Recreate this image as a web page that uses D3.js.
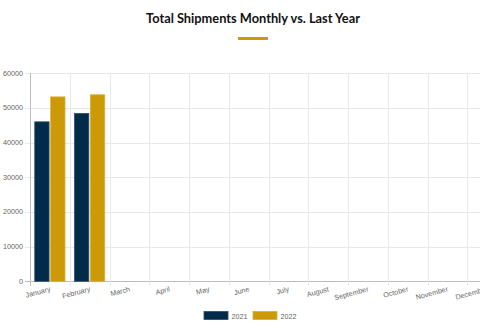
<!DOCTYPE html>
<html><head><meta charset="utf-8">
<script src="https://cdn.jsdelivr.net/npm/d3@7"></script>
<style>html,body{margin:0;padding:0;background:#fff;overflow:hidden}</style>
</head><body>
<svg id="c" width="480" height="335"></svg>
<script>
const months = ["January","February","March","April","May","June","July","August","September","October","November","December"];
const seriesNames = ["2021","2022"];
const values2021 = [46000, 48400, null, null, null, null, null, null, null, null, null, null];
const values2022 = [53200, 53800, null, null, null, null, null, null, null, null, null, null];
const yTicks = [0, 10000, 20000, 30000, 40000, 50000, 60000];
const colors = ["#022b4a", "#cc9a06"];
const borders = ["#2a4d68", "#d9ae3a"];

const svg = d3.select("#c");
const font = "'Liberation Sans', Arial, sans-serif";

// title
const title = svg.append("text").attr("x", 253).attr("y", 23).attr("text-anchor", "middle")
  .style("font-family", "Lato, 'Open Sans', sans-serif").style("font-weight", "700")
  .style("font-size", "14px").attr("fill", "#111").text("Total Shipments Monthly vs. Last Year");
const tl = title.node().getComputedTextLength();
title.style("font-size", (14 * 214 / tl).toFixed(2) + "px");
svg.append("rect").attr("x", 238).attr("y", 37).attr("width", 30).attr("height", 3).attr("fill", "#cc9a06");

const x = d3.scaleBand().domain(months).range([30, 507]).paddingInner(0).paddingOuter(0);
const y = d3.scaleLinear().domain([0, 60000]).range([281.3, 73.3]);
const inner = d3.scaleBand().domain(seriesNames).range([0, x.bandwidth() * 0.8]).paddingInner(0.1).paddingOuter(0.05);

const grid = svg.append("g");
grid.selectAll("line.h").data(yTicks).join("line")
  .attr("x1", 25).attr("x2", 507)
  .attr("y1", d => Math.round(y(d)) + 0.5).attr("y2", d => Math.round(y(d)) + 0.5)
  .attr("stroke", d => d === 0 ? "#bdbdbd" : "#e8e8e8").attr("stroke-width", 1);
const bounds = months.map(m => x(m));
grid.selectAll("line.v").data(bounds).join("line")
  .attr("x1", d => Math.round(d) + 0.5).attr("x2", d => Math.round(d) + 0.5)
  .attr("y1", 73).attr("y2", 286)
  .attr("stroke", (d, i) => i === 0 ? "#bdbdbd" : "#e8e8e8").attr("stroke-width", 1);

svg.append("g").selectAll("text").data(yTicks).join("text")
  .attr("x", 23).attr("y", d => y(d)).attr("dy", "0.35em").attr("text-anchor", "end")
  .style("font-family", font).style("font-size", "7.2px").attr("fill", "#666").text(d => d);

svg.append("g").selectAll("text").data(months).join("text")
  .attr("transform", d => `translate(${x(d) + x.bandwidth() / 2},287) rotate(-15)`)
  .attr("text-anchor", "end").attr("dy", "0.6em")
  .style("font-family", font).style("font-size", "7.2px").attr("fill", "#666").text(d => d);

const seriesData = [values2021, values2022];
seriesNames.forEach((s, si) => {
  svg.append("g").selectAll("rect").data(months.map((m, i) => ({m, v: seriesData[si][i]})).filter(d => d.v != null))
    .join("rect")
    .attr("x", d => x(d.m) + x.bandwidth() * 0.1 + inner(s))
    .attr("width", inner.bandwidth())
    .attr("y", d => y(d.v))
    .attr("height", d => y(0) - y(d.v))
    .attr("fill", colors[si]).attr("stroke", borders[si]).attr("stroke-width", 0.8);
});

const leg = svg.append("g");
const legX = [204, 253];
seriesNames.forEach((s, i) => {
  leg.append("rect").attr("x", legX[i]).attr("y", 311.5).attr("width", 24).attr("height", 8)
    .attr("fill", colors[i]).attr("stroke", borders[i]).attr("stroke-width", 0.8);
  leg.append("text").attr("x", legX[i] + 27.5).attr("y", 318.5)
    .style("font-family", font).style("font-size", "7.2px").attr("fill", "#666").text(s);
});
</script>
</body></html>
